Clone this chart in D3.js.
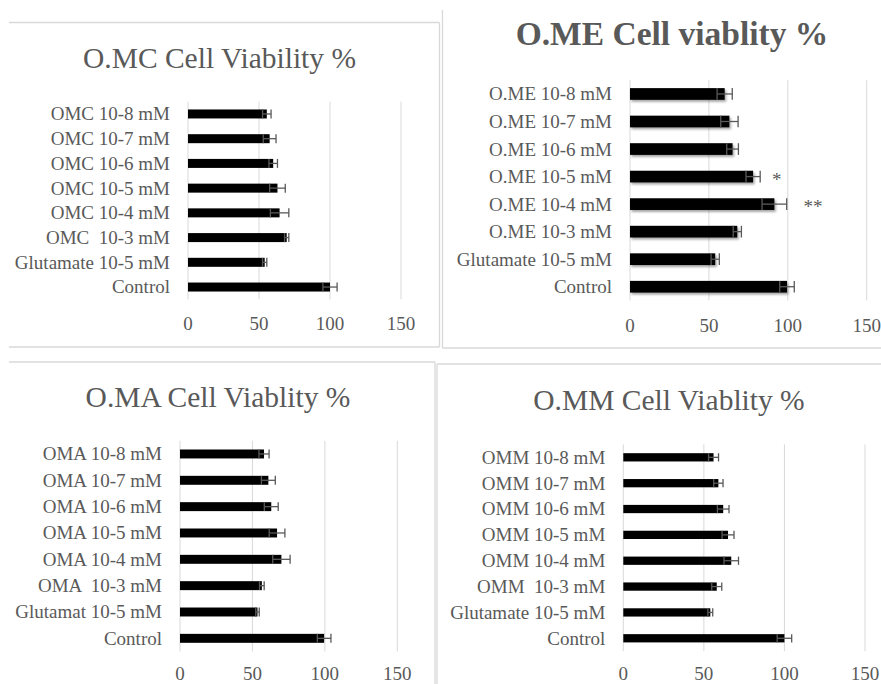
<!DOCTYPE html>
<html>
<head>
<meta charset="utf-8">
<script src="https://cdn.jsdelivr.net/npm/d3@7"></script>
<style>
  body { margin: 0; background: #fff; }
</style>
</head>
<body>
<div id="chart"></div>
<script>
// values, rows listed top to bottom
var omcCategories = ["OMC 10-8 mM", "OMC 10-7 mM", "OMC 10-6 mM", "OMC 10-5 mM", "OMC 10-4 mM", "OMC  10-3 mM", "Glutamate 10-5 mM", "Control"];
var omcValues = [55.5, 57.5, 60, 63, 64.5, 69.5, 54, 100];
var omcErrors = [3, 4.5, 3, 5.5, 6.5, 1.5, 1.5, 5];

var omeCategories = ["O.ME 10-8 mM", "O.ME 10-7 mM", "O.ME 10-6 mM", "O.ME 10-5 mM", "O.ME 10-4 mM", "O.ME 10-3 mM", "Glutamate 10-5 mM", "Control"];
var omeValues = [60, 63, 65, 78, 91.5, 68, 54, 99.5];
var omeErrors = [4.8, 5.5, 3.7, 4.5, 7.8, 2.6, 2.6, 4.6];
var omeSignificance = ["", "", "", "*", "**", "", "", ""];
var omeSignificanceAt = [0, 0, 0, 93, 116, 0, 0, 0];

var omaCategories = ["OMA 10-8 mM", "OMA 10-7 mM", "OMA 10-6 mM", "OMA 10-5 mM", "OMA 10-4 mM", "OMA  10-3 mM", "Glutamat 10-5 mM", "Control"];
var omaValues = [58, 61, 63, 67, 70, 56.5, 53.5, 99.5];
var omaErrors = [3.5, 4.8, 4.8, 5.4, 6, 1.6, 1.2, 4.7];

var ommCategories = ["OMM 10-8 mM", "OMM 10-7 mM", "OMM 10-6 mM", "OMM 10-5 mM", "OMM 10-4 mM", "OMM  10-3 mM", "Glutamate 10-5 mM", "Control"];
var ommValues = [56, 59, 62, 65, 67, 58, 54, 100];
var ommErrors = [3.1, 2.9, 3.6, 3.7, 4.5, 3.1, 1.5, 4.5];

var xTicks = [0, 50, 100, 150];

var width = 881,
    height = 684,
    fontFamily = "'Liberation Serif', Tinos, 'DejaVu Serif', serif";

var svg = d3.select("#chart")
    .append("svg")
    .attr("width", width)
    .attr("height", height)
    .attr("font-family", fontFamily);

svg.append("rect")
    .attr("width", width)
    .attr("height", height)
    .attr("fill", "#fff");

var defs = svg.append("defs");
var shadow = defs.append("filter")
    .attr("id", "barShadow")
    .attr("x", "-10%").attr("y", "-50%")
    .attr("width", "130%").attr("height", "250%");
shadow.append("feDropShadow")
    .attr("dx", 1.5)
    .attr("dy", 2)
    .attr("stdDeviation", 1.3)
    .attr("flood-color", "#000")
    .attr("flood-opacity", 0.35);

// chart-area borders, only the edges that show in the picture
var borders = [
    [9, 22.5, 439.5, 22.5], [439.5, 22.5, 439.5, 347], [9, 347, 439.5, 347],
    [442.5, 10, 442.5, 348], [442.5, 348, 881, 348],
    [9, 362, 435, 362], [435, 362, 435, 684],
    [437, 364, 881, 364], [437, 364, 437, 684]
];
svg.selectAll(".border")
    .data(borders)
    .enter().append("line")
    .attr("class", "border")
    .attr("x1", function(d) { return d[0]; })
    .attr("y1", function(d) { return d[1]; })
    .attr("x2", function(d) { return d[2]; })
    .attr("y2", function(d) { return d[3]; })
    .attr("stroke", "#d9d9d9")
    .attr("stroke-width", 1.3);

function drawPanel(opts) {
    var g = svg.append("g");

    var x = d3.scaleLinear()
        .domain([0, 150])
        .range(opts.xRange);

    var y = d3.scaleBand()
        .domain(opts.categories)
        .range(opts.yRange)
        .paddingInner(opts.pad)
        .paddingOuter(opts.pad / 2);

    // gridlines
    g.selectAll(".grid")
        .data(xTicks)
        .enter().append("line")
        .attr("class", "grid")
        .attr("x1", function(d) { return x(d); })
        .attr("x2", function(d) { return x(d); })
        .attr("y1", opts.yRange[0])
        .attr("y2", opts.yRange[1])
        .attr("stroke", "#d9d9d9")
        .attr("stroke-width", 1);

    // tick labels
    g.selectAll(".tick-label")
        .data(xTicks)
        .enter().append("text")
        .attr("class", "tick-label")
        .attr("x", function(d) { return x(d); })
        .attr("y", opts.tickY)
        .attr("text-anchor", "middle")
        .attr("fill", "#595959")
        .style("font-size", "19px")
        .text(function(d) { return d; });

    // category labels
    g.selectAll(".cat-label")
        .data(opts.categories)
        .enter().append("text")
        .attr("class", "cat-label")
        .attr("x", x(0) - 18)
        .attr("y", function(d) { return y(d) + y.bandwidth() / 2; })
        .attr("dy", "0.34em")
        .attr("text-anchor", "end")
        .attr("fill", "#595959")
        .style("font-size", "19px")
        .style("white-space", "pre")
        .text(function(d) { return d; });

    var rows = opts.categories.map(function(c, i) {
        return { cat: c, value: opts.values[i], err: opts.errors[i], i: i };
    });

    g.selectAll(".bar")
        .data(rows)
        .enter().append("rect")
        .attr("class", "bar")
        .attr("x", x(0))
        .attr("y", function(d) { return y(d.cat); })
        .attr("width", function(d) { return x(d.value) - x(0); })
        .attr("height", y.bandwidth())
        .attr("fill", "#000")
        .attr("filter", opts.shadow ? "url(#barShadow)" : null);

    // error bars
    var eb = g.selectAll(".err")
        .data(rows)
        .enter().append("g")
        .attr("class", "err")
        .attr("stroke", "#595959")
        .attr("stroke-width", 1.3);

    eb.append("line")
        .attr("x1", function(d) { return x(d.value - d.err); })
        .attr("x2", function(d) { return x(d.value + d.err); })
        .attr("y1", function(d) { return y(d.cat) + y.bandwidth() / 2; })
        .attr("y2", function(d) { return y(d.cat) + y.bandwidth() / 2; });

    [-1, 1].forEach(function(s) {
        eb.append("line")
            .attr("x1", function(d) { return x(d.value + s * d.err); })
            .attr("x2", function(d) { return x(d.value + s * d.err); })
            .attr("y1", function(d) { return y(d.cat); })
            .attr("y2", function(d) { return y(d.cat) + y.bandwidth(); });
    });

    if (opts.marks) {
        g.selectAll(".sig")
            .data(rows.filter(function(d) { return opts.marks[d.i] !== ""; }))
            .enter().append("text")
            .attr("class", "sig")
            .attr("x", function(d) { return x(opts.markAt[d.i]); })
            .attr("y", function(d) { return y(d.cat) + y.bandwidth() / 2 + 9; })
            .attr("text-anchor", "middle")
            .attr("fill", "#595959")
            .style("font-size", "19px")
            .text(function(d) { return opts.marks[d.i]; });
    }

    g.append("text")
        .attr("x", opts.titleX)
        .attr("y", opts.titleY)
        .attr("text-anchor", "middle")
        .attr("fill", "#595959")
        .style("font-size", opts.bold ? "33.5px" : "29.5px")
        .style("font-weight", opts.bold ? "bold" : "normal")
        .text(opts.title);
}

drawPanel({
    title: "O.MC Cell Viability %", titleX: 219.5, titleY: 68,
    categories: omcCategories, values: omcValues, errors: omcErrors,
    xRange: [188, 401], yRange: [101.6, 299.4], pad: 0.636, tickY: 329.5
});

drawPanel({
    title: "O.ME Cell viablity %", titleX: 672, titleY: 45, bold: true, shadow: true,
    categories: omeCategories, values: omeValues, errors: omeErrors,
    marks: omeSignificance, markAt: omeSignificanceAt,
    xRange: [630, 866.7], yRange: [80.2, 300.5], pad: 0.575, tickY: 331.5
});

drawPanel({
    title: "O.MA Cell Viablity %", titleX: 218, titleY: 406.5,
    categories: omaCategories, values: omaValues, errors: omaErrors,
    xRange: [180, 397.3], yRange: [440.8, 651.5], pad: 0.66, tickY: 679.5
});

drawPanel({
    title: "O.MM Cell Viablity %", titleX: 669, titleY: 410,
    categories: ommCategories, values: ommValues, errors: ommErrors,
    xRange: [623.3, 865], yRange: [444.4, 651.2], pad: 0.68, tickY: 679.5
});
</script>
</body>
</html>
